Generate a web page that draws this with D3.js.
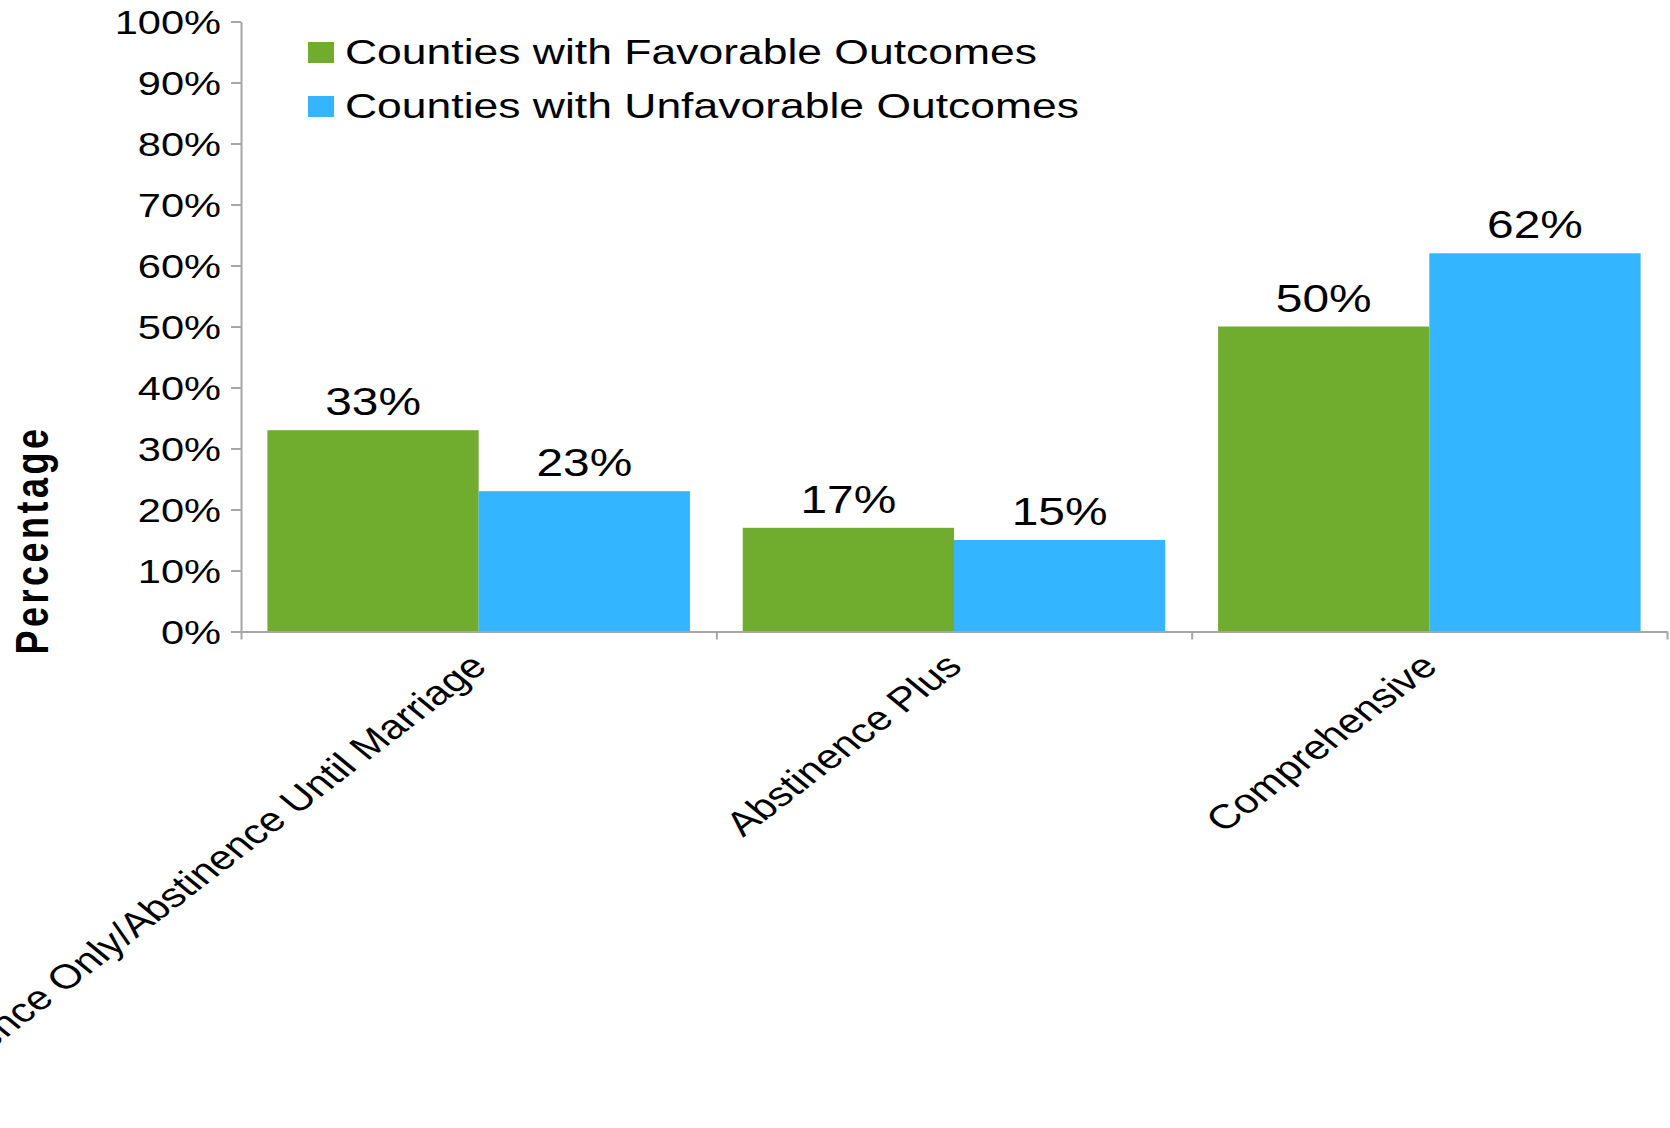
<!DOCTYPE html>
<html>
<head>
<meta charset="utf-8">
<script src="https://cdn.jsdelivr.net/npm/d3@7"></script>
<style>
  html, body { margin: 0; padding: 0; background: #fff; }
  svg { display: block; }
  text { font-family: "Liberation Sans", Arial, Helvetica, sans-serif; fill: #000; }
</style>
</head>
<body>
<svg id="chart" width="1670" height="1128"></svg>
<script>
// Curriculum type for each group of bars
const categories = [
  "Abstinence Only/Abstinence Until Marriage",
  "Abstinence Plus",
  "Comprehensive"
];
const seriesNames = [
  "Counties with Favorable Outcomes",
  "Counties with Unfavorable Outcomes"
];
const favorable = [33, 17, 50];
const unfavorable = [23, 15, 62];
const yTicks = [0, 10, 20, 30, 40, 50, 60, 70, 80, 90, 100];
const yTitle = "Percentage";

const colors = ["#70ad2f", "#33b5ff"];
const axisColor = "#a6a6a6";
const sx = 1.26; // horizontal widening applied to all lettering

const svg = d3.select("#chart");
const plotLeft = 241, plotRight = 1667, plotTop = 21.5, plotBottom = 631.5;

const x0 = d3.scaleBand().domain(categories).range([plotLeft, plotRight]).padding(0);
const x1 = d3.scaleBand().domain(seriesNames).range([0, x0.bandwidth()])
  .paddingInner(0).paddingOuter(0.125);
const y = d3.scaleLinear().domain([0, 100]).range([plotBottom, plotTop]);
const color = d3.scaleOrdinal().domain(seriesNames).range(colors);

const rows = categories.map((c, i) => ({
  cat: c,
  vals: [
    { s: seriesNames[0], v: favorable[i] },
    { s: seriesNames[1], v: unfavorable[i] }
  ]
}));

// Bars
const groups = svg.append("g").selectAll("g").data(rows).join("g")
  .attr("transform", d => `translate(${x0(d.cat)},0)`);
groups.selectAll("rect").data(d => d.vals).join("rect")
  .attr("x", d => x1(d.s))
  .attr("width", x1.bandwidth())
  .attr("y", d => y(d.v))
  .attr("height", d => y(0) - y(d.v))
  .attr("fill", d => color(d.s));

// Value labels
groups.selectAll("text.val").data(d => d.vals).join("text")
  .attr("class", "val")
  .attr("text-anchor", "middle")
  .attr("font-size", 38)
  .attr("transform", d => `translate(${x1(d.s) + x1.bandwidth() / 2},${y(d.v) - 15}) scale(${sx},1)`)
  .text(d => d.v + "%");

// Y axis
const yAxis = svg.append("g")
  .attr("transform", `translate(${plotLeft},0)`)
  .call(d3.axisLeft(y).tickValues(yTicks).tickSize(10).tickSizeOuter(0).tickFormat(d => d + "%"));
yAxis.select(".domain").attr("stroke", axisColor).attr("stroke-width", 2);
yAxis.selectAll(".tick line").attr("stroke", axisColor).attr("stroke-width", 2);
yAxis.selectAll(".tick text")
  .attr("x", null).attr("dy", "0.36em")
  .attr("font-size", 33)
  .attr("fill", "#000")
  .attr("text-anchor", "end")
  .attr("transform", `translate(-20,0) scale(${sx},1)`);
yAxis.attr("font-family", null).attr("font-size", null);

// X axis: baseline with ticks at the category boundaries
const xb = d3.scaleLinear().domain([0, categories.length]).range([plotLeft, plotRight]);
const xAxis = svg.append("g")
  .attr("transform", `translate(0,${plotBottom})`)
  .call(d3.axisBottom(xb).ticks(categories.length).tickSize(8).tickSizeOuter(0).tickFormat(""));
xAxis.select(".domain").attr("stroke", axisColor).attr("stroke-width", 2);
xAxis.selectAll(".tick line").attr("stroke", axisColor).attr("stroke-width", 2);

// Category labels, slanted
svg.append("g").selectAll("text").data(categories).join("text")
  .attr("text-anchor", "end")
  .attr("font-size", 34)
  .attr("transform", d => `translate(${x0(d) + x0.bandwidth() / 2 + 10},${plotBottom + 37}) scale(${sx},1) rotate(-44)`)
  .text(d => d);

// Y axis title
svg.append("text")
  .attr("text-anchor", "middle")
  .attr("font-size", 36)
  .attr("font-weight", "bold")
  .attr("letter-spacing", 3.5)
  .attr("transform", `translate(48,540) scale(${sx},1) rotate(-90)`)
  .text(yTitle);

// Legend
const legend = svg.append("g").selectAll("g").data(seriesNames).join("g")
  .attr("transform", (d, i) => `translate(308,${42 + i * 54})`);
legend.append("rect")
  .attr("width", 26).attr("height", 21)
  .attr("fill", d => color(d));
legend.append("text")
  .attr("font-size", 35.3)
  .attr("transform", `translate(37,22) scale(${sx},1)`)
  .text(d => d);
</script>
</body>
</html>
